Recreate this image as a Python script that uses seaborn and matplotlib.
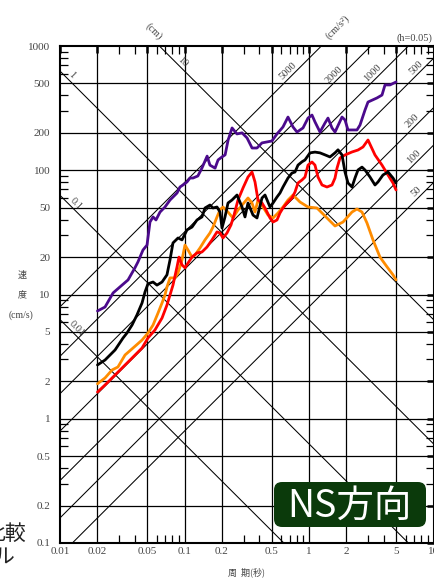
import numpy as np
import pandas as pd
import matplotlib
matplotlib.use("Agg")
import matplotlib.pyplot as plt
import seaborn as sns
from matplotlib.patches import FancyBboxPatch
from matplotlib.transforms import IdentityTransform

# ---------------- data ----------------
purple_T = [0.02, 0.023, 0.0267, 0.0315, 0.0352, 0.040, 0.0423, 0.0464, 0.050, 0.0528,
            0.0559, 0.059, 0.0636, 0.0697, 0.0765, 0.0871, 0.092, 0.0973, 0.1047, 0.1107,
            0.117, 0.128, 0.138, 0.152, 0.160, 0.176, 0.186, 0.200, 0.212, 0.224,
            0.241, 0.264, 0.290, 0.318, 0.349, 0.382, 0.419, 0.460, 0.504, 0.553,
            0.618, 0.678, 0.744, 0.801, 0.895, 0.982, 1.057, 1.117, 1.226, 1.344,
            1.421, 1.530, 1.618, 1.841, 1.946, 2.057, 2.429, 2.568, 2.817, 2.978,
            3.518, 3.858, 4.078, 4.473, 5.0]
purple_V = [7.37, 7.93, 10.3, 11.9, 13.1, 16.4, 18.3, 22.8, 25.0, 38.3,
            42.1, 39.8, 46.1, 50.6, 57.6, 65.6, 73.3, 76.1, 80.5, 86.6,
            86.6, 89.9, 104, 130, 110, 104, 121, 128, 133, 175,
            219, 196, 200, 182, 151, 151, 166, 169, 172, 196,
            223, 268, 223, 203, 219, 263, 278, 245, 203, 240,
            263, 219, 203, 268, 254, 211, 211, 231, 305, 354,
            382, 403, 486, 486, 513]

black_T = [0.02, 0.023, 0.0277, 0.0321, 0.0345, 0.0379, 0.0415, 0.0456, 0.0482, 0.0509,
           0.0559, 0.0601, 0.0660, 0.0723, 0.0765, 0.0808, 0.0887, 0.0955, 0.1047, 0.1149,
           0.1260, 0.1382, 0.1461, 0.1602, 0.1694, 0.1824, 0.1928, 0.2001, 0.2115, 0.2236,
           0.2407, 0.2641, 0.2896, 0.3061, 0.3236, 0.3550, 0.3822, 0.4193, 0.4433, 0.4862,
           0.5139, 0.5533, 0.5848, 0.6182, 0.6781, 0.7300, 0.7718, 0.8159, 0.8785, 0.9287,
           1.019, 1.117, 1.226, 1.344, 1.474, 1.618, 1.710, 1.841, 1.946, 2.057,
           2.215, 2.341, 2.475, 2.665, 2.817, 3.090, 3.389, 3.583, 3.929, 4.31,
           4.727, 5.0]
black_V = [2.71, 2.97, 3.58, 4.47, 4.90, 5.68, 6.84, 8.55, 10.5, 12.2,
           12.6, 11.9, 12.6, 14.4, 19.0, 26.0, 28.5, 27.5, 33.1, 34.9,
           39.8, 42.1, 49.7, 52.5, 49.7, 50.6, 46.1, 34.3, 42.1, 54.5,
           57.6, 63.2, 50.6, 42.1, 54.5, 43.6, 41.3, 59.8, 63.2, 50.6,
           54.5, 60.9, 65.6, 73.3, 86.6, 95.0, 96.8, 110, 117, 121,
           138, 140, 138, 133, 128, 138, 146, 133, 96.8, 79.0,
           73.3, 86.6, 100.5, 106, 100.5, 88.2, 76.1, 80.5, 91.6, 96.8,
           86.6, 79.0]

red_T = [0.02, 0.023, 0.0267, 0.0315, 0.0379, 0.0456, 0.0509, 0.0579, 0.0660, 0.0723,
         0.0765, 0.0808, 0.0871, 0.0903, 0.0955, 0.1009, 0.1067, 0.1149, 0.1260, 0.1382,
         0.1516, 0.1663, 0.1824, 0.1928, 0.2038, 0.2195, 0.2363, 0.2498, 0.2690, 0.2951,
         0.3236, 0.3485, 0.3684, 0.3894, 0.4193, 0.4433, 0.4862, 0.5139, 0.5533, 0.5848,
         0.6182, 0.6657, 0.7300, 0.7718, 0.8159, 0.8785, 0.9287, 0.9817, 1.057, 1.117,
         1.181, 1.272, 1.395, 1.530, 1.618, 1.679, 1.774, 1.946, 2.215, 2.475,
         2.715, 2.978, 3.389, 3.858, 4.31, 4.727, 5.0]
red_V = [1.64, 1.87, 2.17, 2.56, 3.08, 3.71, 4.47, 5.18, 6.47, 8.23,
         9.91, 11.9, 16.7, 20.0, 17.3, 16.4, 17.9, 20.0, 21.6, 22.0,
         24.1, 27.5, 31.9, 31.3, 28.5, 31.3, 36.3, 43.6, 57.6, 72.0,
         88.2, 96.8, 80.5, 57.6, 54.5, 49.7, 41.3, 38.3, 39.8, 45.3,
         49.7, 54.5, 59.8, 66.8, 79.0, 83.5, 88.2, 110, 116.5, 110,
         88.2, 76.1, 73.3, 76.1, 86.6, 104, 125.5, 132.7, 140.3, 145.5,
         153.9, 175.2, 132.7, 110, 91.6, 79.0, 69.4]

orange_T = [0.02, 0.023, 0.0262, 0.0292, 0.0333, 0.0386, 0.0456, 0.0509, 0.0559, 0.0613,
            0.0660, 0.0697, 0.0723, 0.0765, 0.0839, 0.0887, 0.0955, 0.1009, 0.1067, 0.1149,
            0.1214, 0.1332, 0.1461, 0.1602, 0.1694, 0.1824, 0.1928, 0.2038, 0.2236, 0.2452,
            0.2690, 0.2951, 0.3236, 0.3485, 0.3684, 0.3894, 0.4271, 0.4685, 0.5139, 0.5636,
            0.6182, 0.6781, 0.7437, 0.8467, 0.9817, 1.159, 1.395, 1.618, 1.876, 2.215,
            2.429, 2.665, 2.923, 3.266, 3.717, 4.232, 4.727, 5.0]
orange_V = [1.91, 2.13, 2.47, 2.61, 3.26, 3.71, 4.30, 4.90, 5.68, 7.10,
            8.55, 9.91, 11.5, 13.6, 13.6, 14.9, 19.0, 25.0, 22.8, 20.0,
            20.8, 23.7, 27.5, 31.3, 34.9, 42.1, 47.9, 50.6, 46.1, 41.3,
            47.9, 53.5, 59.8, 54.5, 46.1, 57.6, 50.6, 43.6, 41.3, 45.3,
            50.6, 57.6, 63.2, 55.5, 50.6, 49.7, 41.3, 35.6, 38.3, 46.1,
            48.8, 46.1, 37.6, 27.5, 20.0, 16.7, 14.4, 13.1]

series_names = ["purple", "black", "red", "orange"]
series_colors = {"purple": "#4b0a8c", "black": "#000000", "red": "#ff0000", "orange": "#ff8c00"}

disp_values = [0.01, 0.1, 1, 10]          # cm
disp_labels = ["0.01", "0.1", "1", "10"]
acc_values = [50, 100, 200, 500, 1000, 2000, 5000]   # cm/s^2
acc_labels = ["50", "100", "200", "500", "1000", "2000", "5000"]

x_ticks = [0.01, 0.02, 0.05, 0.1, 0.2, 0.5, 1, 2, 5, 10]
x_tick_labels = ["0.01", "0.02", "0.05", "0.1", "0.2", "0.5", "1", "2", "5", "10"]
y_ticks = [0.1, 0.2, 0.5, 1, 2, 5, 10, 20, 50, 100, 200, 500, 1000]
y_tick_labels = ["0.1", "0.2", "0.5", "1", "2", "5", "10", "20", "50", "100", "200", "500", "1000"]

# ---------------- style ----------------
sns.set_theme(style="white")
plt.rcParams["font.family"] = ["Liberation Serif", "Noto Sans CJK JP", "DejaVu Sans"]
serif = ["Liberation Serif", "Noto Sans CJK JP"]
cjk = ["Noto Sans CJK JP", "DejaVu Sans"]
gray = "#444444"

W, H = 435, 579
fig = plt.figure(figsize=(W / 100, H / 100), dpi=100)
fig.patch.set_facecolor("white")
ax = fig.add_axes([60 / W, 36 / H, 373.5 / W, 497 / H])
ax.set_xscale("log")
ax.set_yscale("log")
ax.set_xlim(0.01, 10)
ax.set_ylim(0.1, 1000)
ax.set_facecolor("white")

# grid lines at 1-2-5
for xv in x_ticks[1:-1]:
    ax.axvline(xv, color="black", lw=0.9, zorder=1)
for yv in y_ticks[1:-1]:
    ax.axhline(yv, color="black", lw=0.9, zorder=1)

# tripartite diagonal lines
Tline = np.array([0.005, 20.0])
for d in disp_values:
    ax.plot(Tline, 2 * np.pi * d / Tline, color="black", lw=0.75, zorder=1)
for a in acc_values:
    ax.plot(Tline, a * Tline / (2 * np.pi), color="black", lw=0.75, zorder=1)

# curves
frames = []
for name, T, V in [("purple", purple_T, purple_V), ("black", black_T, black_V),
                   ("red", red_T, red_V), ("orange", orange_T, orange_V)]:
    frames.append(pd.DataFrame({"T": T, "V": V, "series": name}))
df = pd.concat(frames, ignore_index=True)
sns.lineplot(data=df, x="T", y="V", hue="series", hue_order=["orange", "red", "black", "purple"],
             palette=series_colors, estimator=None, sort=False, lw=2.0, legend=False, ax=ax, zorder=3)
ax.set_xlabel("")
ax.set_ylabel("")

# ticks
ax.set_xticks(x_ticks)
ax.set_xticklabels(x_tick_labels)
ax.set_yticks(y_ticks)
ax.set_yticklabels(y_tick_labels)
minor_x = [m * 10.0 ** e for e in (-2, -1, 0) for m in (3, 4, 6, 7, 8, 9)]
minor_y = [m * 10.0 ** e for e in (-1, 0, 1, 2) for m in (3, 4, 6, 7, 8, 9)]
ax.set_xticks(minor_x, minor=True)
ax.set_yticks(minor_y, minor=True)
ax.set_xticklabels([], minor=True)
ax.set_yticklabels([], minor=True)
ax.tick_params(which="major", direction="in", length=5, width=1.8, color="black",
               top=True, right=True, labelsize=8, labelcolor=gray, pad=3)
ax.tick_params(axis="y", which="major", pad=7)
ax.tick_params(which="minor", direction="in", length=6, width=0.9, color="black",
               top=True, right=True, bottom=True, left=True)
for lab in ax.get_xticklabels() + ax.get_yticklabels():
    lab.set_family(serif)
for s in ax.spines.values():
    s.set_color("black")
    s.set_linewidth(1.5)
    s.set_zorder(4)

# diagonal line labels (offset in pixels perpendicular to the lines)
disp_label_T = {"1": 0.0116, "10": 0.090, "0.1": 0.0125, "0.01": 0.0127}
for d, lab in zip(disp_values, disp_labels):
    t = disp_label_T[lab]
    ax.annotate(lab, xy=(t, 2 * np.pi * d / t), xytext=(4, 4), textcoords="offset pixels",
                rotation=-45, ha="center", va="center", fontsize=7.5, color=gray,
                family=serif, zorder=5)
acc_label_T = {"5000": 0.73, "2000": 1.71, "1000": 3.52, "500": 7.85,
               "200": 7.32, "100": 7.52, "50": 7.85}
for a, lab in zip(acc_values, acc_labels):
    t = acc_label_T[lab]
    ax.annotate(lab, xy=(t, a * t / (2 * np.pi)), xytext=(-4, 4), textcoords="offset pixels",
                rotation=45, ha="center", va="center", fontsize=7.5, color=gray,
                family=serif, zorder=5)

# outer labels
def fx(px):
    return px / W

def fy(py):
    return 1 - py / H

fig.text(fx(154), fy(31), "(cm)", rotation=-45, ha="center", va="center",
         fontsize=7.5, color=gray, family=serif)
fig.text(fx(338), fy(27), "(cm/s²)", rotation=45, ha="center", va="center",
         fontsize=7.5, color=gray, family=serif)
fig.text(fx(432), fy(38), "(h=0.05)", ha="right", va="center",
         fontsize=7.5, color=gray, family=serif)
fig.text(fx(22), fy(275), "速", ha="center", va="center", fontsize=6.5, color=gray, family=cjk)
fig.text(fx(22), fy(295), "度", ha="center", va="center", fontsize=6.5, color=gray, family=cjk)
fig.text(fx(21), fy(315), "(cm/s)", ha="center", va="center", fontsize=7, color=gray, family=serif)
fig.text(fx(247), fy(572), "周  期(秒)", ha="center", va="center", fontsize=6.5, color=gray, family=cjk)

# neighbouring text fragments at the left edge
fig.text(fx(26), fy(534), "比較", ha="right", va="center", fontsize=15, color="#222222", family=cjk)
fig.text(fx(15), fy(558), "ル", ha="right", va="center", fontsize=15, color="#222222", family=cjk)

# NS label box
box = FancyBboxPatch((274, H - 527), 152, 45, boxstyle="round,pad=0,rounding_size=8",
                     transform=IdentityTransform(), facecolor="#0b3a0b", edgecolor="none", zorder=10)
fig.patches.append(box)
fig.text(fx(349), fy(506), "NS方向", ha="center", va="center", fontsize=27, color="white",
         family=cjk, zorder=11)

fig.savefig("out.png", dpi=100)
